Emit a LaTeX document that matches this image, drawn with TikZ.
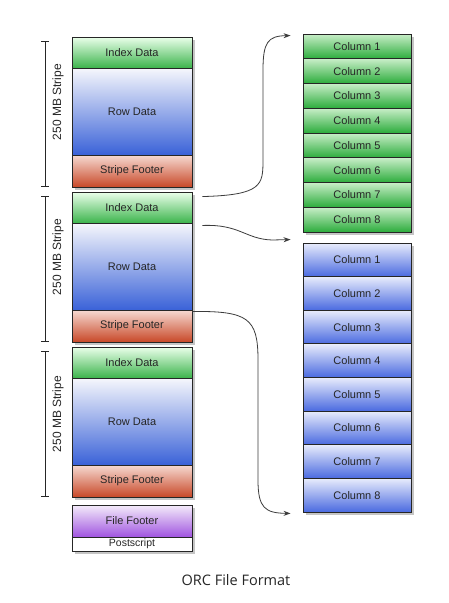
\documentclass[tikz,border=0pt]{standalone}
\usepackage{fontspec}
\setmainfont{Liberation Sans}
\newfontfamily\capfont{Open Sans}
\usetikzlibrary{shadows,arrows.meta,calc}
\definecolor{txt}{HTML}{262626}
\definecolor{edge}{HTML}{262626}
\tikzset{
  seg/.style={draw=edge, line width=0.9pt, inner sep=0pt, minimum width=120pt,
    font=\fontsize{11}{12}\selectfont, text=txt,
    drop shadow={shadow xshift=2.5pt, shadow yshift=-3pt, opacity=0.45}},
  idxseg/.style={seg, top color=green!8!white, bottom color={rgb,255:red,60;green,180;blue,76}},
  rowseg/.style={seg, top color={rgb,255:red,246;green,247;blue,252}, bottom color={rgb,255:red,58;green,98;blue,216}},
  footseg/.style={seg, top color={rgb,255:red,246;green,218;blue,210}, bottom color={rgb,255:red,200;green,72;blue,40}},
  filefoot/.style={seg, top color={rgb,255:red,244;green,236;blue,250}, bottom color={rgb,255:red,160;green,84;blue,224}},
  postseg/.style={seg, fill=white, font=\fontsize{10.5}{11}\selectfont},
  gcol/.style={seg, minimum width=108pt, minimum height=24.75pt,
    top color={rgb,255:red,200;green,238;blue,200}, bottom color={rgb,255:red,44;green,172;blue,60}},
  bcol/.style={seg, minimum width=108pt, minimum height=33.625pt,
    top color={rgb,255:red,232;green,236;blue,252}, bottom color={rgb,255:red,74;green,106;blue,224}},
  bracketline/.style={draw=txt, line width=0.8pt},
  stripelabel/.style={rotate=90, text=txt, font=\fontsize{12}{13}\selectfont},
  conn/.style={draw={rgb,255:red,60;green,60;blue,60}, line width=0.8pt, -{Stealth[length=7pt,width=5pt]}}
}
\begin{document}
\begin{tikzpicture}[x=1pt,y=-1pt]
\useasboundingbox[fill=white] (0,0) rectangle (449,603);

% stripes
\node[idxseg, minimum height=31pt] (idx1) at (132,52.5) {Index Data};
\node[rowseg, minimum height=87pt] (row1) at (132,111.5) {Row Data};
\node[footseg, minimum height=32pt] (foot1) at (132,171) {Stripe Footer};

\node[idxseg, minimum height=31pt] (idx2) at (132,207.5) {Index Data};
\node[rowseg, minimum height=87pt] (row2) at (132,266.5) {Row Data};
\node[footseg, minimum height=32pt] (foot2) at (132,326) {Stripe Footer};

\node[idxseg, minimum height=31pt] (idx3) at (132,362.5) {Index Data};
\node[rowseg, minimum height=87pt] (row3) at (132,421.5) {Row Data};
\node[footseg, minimum height=32pt] (foot3) at (132,481) {Stripe Footer};

\node[filefoot, minimum height=32pt] (ff) at (132,521) {File Footer};
\node[postseg, minimum height=14pt] (ps) at (132,544) {Postscript};

% brackets
\foreach \t/\b/\c [count=\i] in {41/186/102, 196/341/257, 351/496/414}{
  \draw[bracketline] (45,\t) -- (45,\b);
  \draw[bracketline] (41,\t) -- (49,\t);
  \draw[bracketline] (41,\b) -- (49,\b);
  \node[stripelabel] (lab\i) at (58,\c) {250 MB Stripe};
}

% columns
\foreach \k in {1,...,8}{
  \node[gcol] (g\k) at (357,{34+24.75*(\k-0.5)}) {Column \k};
}
\foreach \k in {1,...,8}{
  \node[bcol] (b\k) at (357,{243+33.625*(\k-0.5)}) {Column \k};
}

% connectors
\coordinate (s1) at ($(idx2.north east)+(10,5)$);
\coordinate (e1) at ($(g1.north west)+(-12,2)$);
\draw[conn] (s1) .. controls (262,195) and (263,185) .. (263,160)
  -- (263,70) .. controls (263,42) and (268,36) .. (e1);

\coordinate (s2) at ($(idx2.south east)+(10,2)$);
\coordinate (e2) at ($(b1.north west)+(-12,-3)$);
\draw[conn] (s2) .. controls (240,224) and (245,239) .. (272,240) -- (e2);

\coordinate (s3) at ($(row2.south east)+(0,1)$);
\coordinate (e3) at ($(b8.south west)+(-12,1)$);
\draw[conn] (s3) .. controls (248,311) and (258,318) .. (258,360)
  -- (258,480) .. controls (258,508) and (265,513) .. (e3);

% caption
\node[font=\capfont\fontsize{14.5}{16}\selectfont, text=black!85] (cap) at (236,580) {ORC File Format};
\end{tikzpicture}
\end{document}
